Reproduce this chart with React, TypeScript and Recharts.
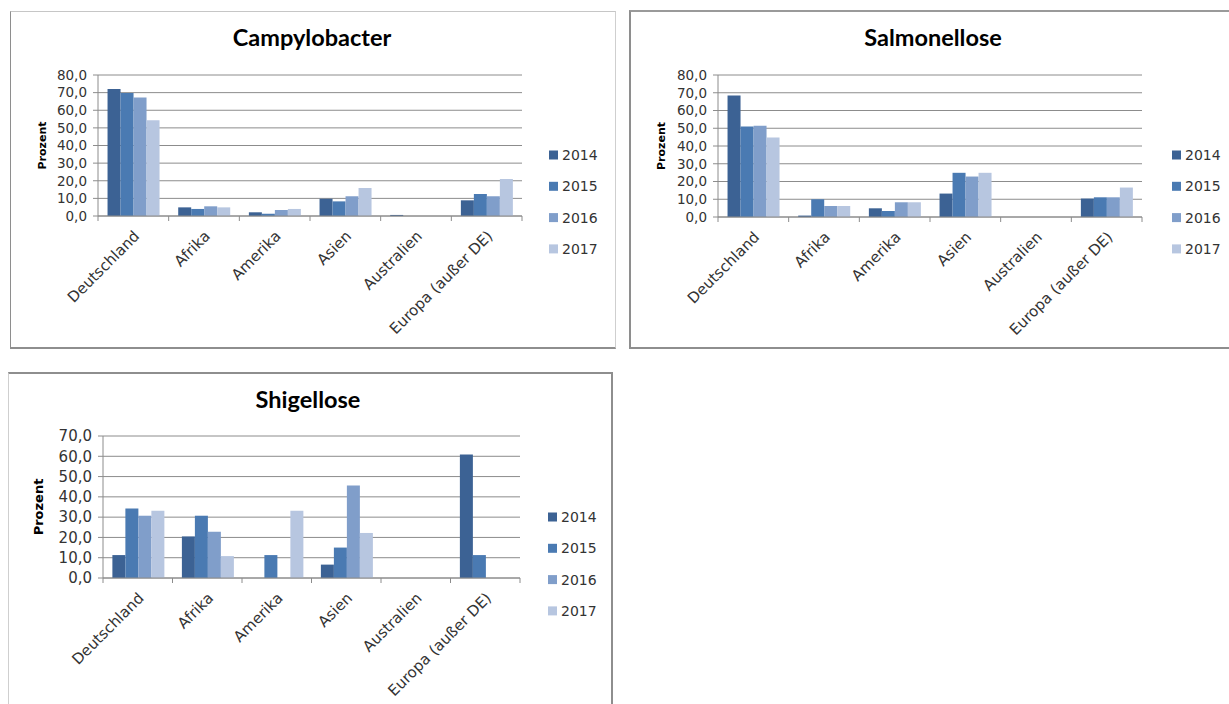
import { BarChart, Bar, XAxis, YAxis, CartesianGrid, Label } from "recharts";

const categories = ["Deutschland", "Afrika", "Amerika", "Asien", "Australien", "Europa (außer DE)"];
const years = ["2014", "2015", "2016", "2017"];
const yearColors = ["#3C6294", "#4A7AB2", "#809ECA", "#B7C6E0"];

// Campylobacter, Prozent je Region
const campy2014 = [72.0, 4.9, 2.1, 9.8, 0.6, 8.9];
const campy2015 = [69.8, 4.0, 1.3, 8.3, 0, 12.5];
const campy2016 = [67.3, 5.5, 3.4, 11.2, 0, 11.2];
const campy2017 = [54.3, 4.9, 4.0, 15.9, 0, 21.0];

// Salmonellose
const salm2014 = [68.5, 0.8, 4.9, 13.2, 0, 10.4];
const salm2015 = [51.0, 10.0, 3.4, 24.9, 0, 11.1];
const salm2016 = [51.4, 6.2, 8.3, 22.8, 0, 11.1];
const salm2017 = [44.8, 6.2, 8.3, 24.9, 0, 16.6];

// Shigellose
const shig2014 = [11.3, 20.5, 0, 6.6, 0, 60.9];
const shig2015 = [34.3, 30.7, 11.3, 15.0, 0, 11.3];
const shig2016 = [30.7, 22.8, 0, 45.6, 0, 0];
const shig2017 = [33.2, 10.8, 33.2, 22.2, 0, 0];

const ticks80 = [0, 10, 20, 30, 40, 50, 60, 70, 80];
const ticks70 = [0, 10, 20, 30, 40, 50, 60, 70];

const GRID = "#8c8c8c";
const TEXT = "#333333";
const FONT = "'DejaVu Sans', Verdana, sans-serif";

const buildRows = (series: number[][]) =>
  categories.map((name, i) => {
    const row: Record<string, string | number> = { name };
    years.forEach((y, k) => (row[y] = series[k][i]));
    return row;
  });

type PanelProps = {
  title: string;
  series: number[][];
  yTicks: number[];
  left: number;
  top: number;
  width: number;
  height: number;
  plot: { left: number; right: number; top: number; bottom: number };
  titleX: number;
  titleY: number;
  legendX: number;
  legendY: number;
  tickFont: number;
  catFont: number;
  labelFont: number;
  labelX: number;
  borders: React.CSSProperties;
};

const fmt = (v: number) => v.toFixed(1).replace(".", ",");

const Panel = (p: PanelProps) => {
  const data = buildRows(p.series);
  const plotW = p.plot.right - p.plot.left;
  const bw = plotW / categories.length;
  const axisY = p.plot.bottom;

  const CategoryTick = (props: any) => {
    const { x, payload, index } = props;
    return (
      <g>
        <line x1={x - bw / 2} y1={axisY} x2={x - bw / 2} y2={axisY + 5} stroke={GRID} />
        {index === categories.length - 1 && (
          <line x1={x + bw / 2} y1={axisY} x2={x + bw / 2} y2={axisY + 5} stroke={GRID} />
        )}
        <text
          transform={`translate(${x + 7},${axisY + 21}) rotate(-45)`}
          textAnchor="end"
          fontSize={p.catFont}
          fontFamily={FONT}
          fill={TEXT}
        >
          {payload.value}
        </text>
      </g>
    );
  };

  return (
    <div style={{ position: "absolute", left: p.left, top: p.top, width: p.width, height: p.height }}>
      <div style={{ position: "absolute", left: 0, top: 0 }}>
        <BarChart
          width={p.width}
          height={p.height}
          data={data}
          margin={{ top: p.plot.top, right: p.width - p.plot.right, bottom: 0, left: 0 }}
          barCategoryGap="13.5%"
          barGap={0}
        >
          <CartesianGrid vertical={false} stroke={GRID} />
          <XAxis
            dataKey="name"
            interval={0}
            height={p.height - p.plot.bottom}
            axisLine={{ stroke: GRID }}
            tickLine={false}
            tickSize={5}
            tickMargin={0}
            tick={CategoryTick}
          />
          <YAxis
            width={p.plot.left}
            domain={[0, p.yTicks[p.yTicks.length - 1]]}
            ticks={p.yTicks}
            interval={0}
            tickFormatter={fmt}
            axisLine={{ stroke: GRID }}
            tickLine={{ stroke: GRID }}
            tickSize={5}
            tickMargin={6}
            tick={{ fontSize: p.tickFont, fontFamily: FONT, fill: TEXT }}
          >
            <Label
              content={({ viewBox }: any) => (
                <text
                  transform={`translate(${p.labelX},${viewBox.y + viewBox.height / 2}) rotate(-90)`}
                  textAnchor="middle"
                  dominantBaseline="central"
                  fontSize={p.labelFont}
                  fontWeight="bold"
                  fontFamily={FONT}
                  fill="#000"
                >
                  Prozent
                </text>
              )}
            />
          </YAxis>
          {years.map((y, k) => (
            <Bar key={y} dataKey={y} fill={yearColors[k]} isAnimationActive={false} />
          ))}
        </BarChart>
      </div>
      <svg
        width={p.width}
        height={p.height}
        style={{ position: "absolute", left: 0, top: 0, pointerEvents: "none" }}
      >
        <text
          x={p.titleX}
          y={p.titleY}
          textAnchor="middle"
          fontFamily="Lato, 'Open Sans', sans-serif"
          fontWeight="bold"
          fontSize={23.5}
          fill="#000"
        >
          {p.title}
        </text>
        {years.map((y, k) => (
          <g key={y}>
            <rect x={p.legendX} y={p.legendY + k * 31.3 - 4.5} width={9} height={9} fill={yearColors[k]} />
            <text
              x={p.legendX + 13}
              y={p.legendY + k * 31.3}
              dominantBaseline="central"
              fontSize={14}
              fontFamily={FONT}
              fill={TEXT}
            >
              {y}
            </text>
          </g>
        ))}
      </svg>
      <div
        style={{
          position: "absolute",
          left: 0,
          top: 0,
          width: p.width,
          height: p.height,
          boxSizing: "border-box",
          pointerEvents: "none",
          ...p.borders,
        }}
      />
    </div>
  );
};

export default function App() {
  return (
    <div
      style={{
        position: "absolute",
        left: 0,
        top: 0,
        width: 1229,
        height: 704,
        overflow: "hidden",
        background: "#fff",
      }}
    >
      <Panel
        title="Campylobacter"
        series={[campy2014, campy2015, campy2016, campy2017]}
        yTicks={ticks80}
        left={10}
        top={11}
        width={606}
        height={338}
        plot={{ left: 88, right: 512, top: 64, bottom: 205 }}
        titleX={302}
        titleY={35}
        legendX={539}
        legendY={144}
        tickFont={13.5}
        catFont={15}
        labelFont={11}
        labelX={32}
        borders={{
          borderLeft: "1px solid #8e8e8e",
          borderTop: "1px solid #c6c6c6",
          borderRight: "1px solid #cfcfcf",
          borderBottom: "2px solid #8e8e8e",
        }}
      />
      <Panel
        title="Salmonellose"
        series={[salm2014, salm2015, salm2016, salm2017]}
        yTicks={ticks80}
        left={629}
        top={10}
        width={610}
        height={339}
        plot={{ left: 89, right: 513, top: 65, bottom: 207 }}
        titleX={304}
        titleY={36}
        legendX={543}
        legendY={145}
        tickFont={13.5}
        catFont={15}
        labelFont={11}
        labelX={32}
        borders={{
          borderLeft: "2px solid #8e8e8e",
          borderTop: "2px solid #9a9a9a",
          borderBottom: "2px solid #8e8e8e",
        }}
      />
      <Panel
        title="Shigellose"
        series={[shig2014, shig2015, shig2016, shig2017]}
        yTicks={ticks70}
        left={8}
        top={372}
        width={605}
        height={340}
        plot={{ left: 95, right: 512, top: 64, bottom: 206 }}
        titleX={300}
        titleY={36}
        legendX={540}
        legendY={145}
        tickFont={15}
        catFont={15}
        labelFont={13}
        labelX={30}
        borders={{
          borderLeft: "1px solid #cfcfcf",
          borderTop: "2px solid #8e8e8e",
          borderRight: "2px solid #8e8e8e",
        }}
      />
    </div>
  );
}
